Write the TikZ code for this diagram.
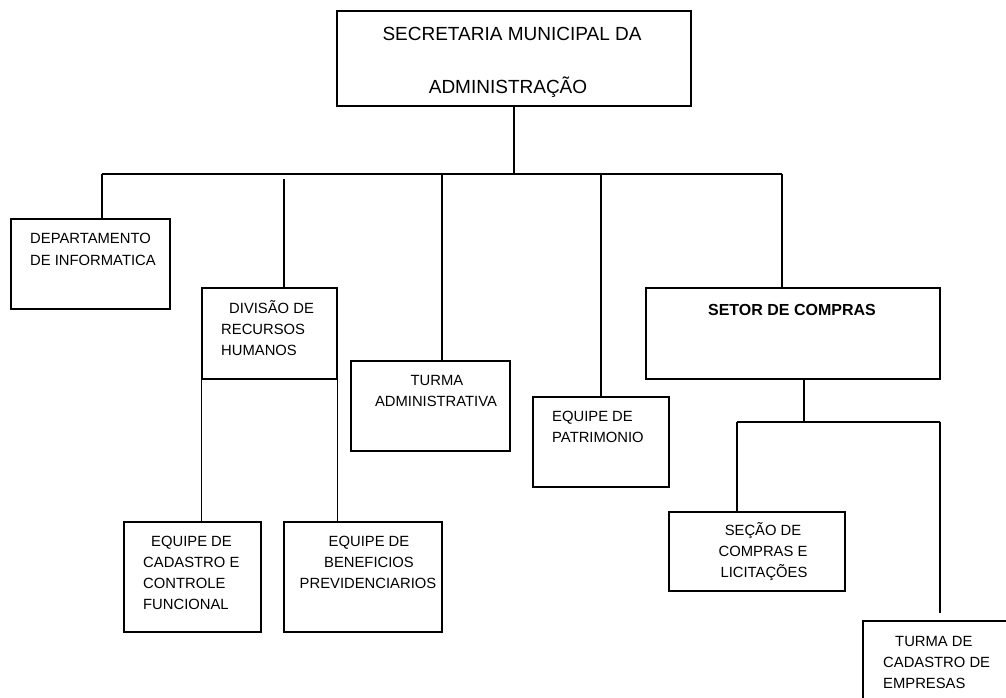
\documentclass[tikz,border=0pt]{standalone}
\usepackage{fontspec}
\setmainfont{Liberation Sans}
\begin{document}
\begin{tikzpicture}[x=1pt,y=-1pt,
  box/.style={draw, line width=1.6pt, inner sep=0pt},
  conn/.style={line width=1.3pt},
  txt/.style={inner sep=0pt, font=\fontsize{14.8}{16}\selectfont},
  bigtxt/.style={inner sep=0pt, font=\fontsize{19}{20}\selectfont},
  boldtxt/.style={inner sep=0pt, font=\fontsize{16}{17}\selectfont\bfseries}]
\clip (0,0) rectangle (1006,698);
\fill[white] (0,0) rectangle (1006,698);
% boxes
\node[box, minimum width=354pt, minimum height=95pt] (top) at (514,58.5) {};
\node[box, minimum width=159pt, minimum height=90pt] (dept) at (90.5,264) {};
\node[box, minimum width=135pt, minimum height=91pt] (rh) at (269.5,333.5) {};
\node[box, minimum width=159pt, minimum height=90pt] (tadm) at (430.5,406) {};
\node[box, minimum width=136pt, minimum height=90pt] (pat) at (601,442) {};
\node[box, minimum width=294pt, minimum height=91pt] (setor) at (793,333.5) {};
\node[box, minimum width=137pt, minimum height=110pt] (eqcad) at (192.5,577) {};
\node[box, minimum width=158pt, minimum height=110pt] (eqben) at (363,577) {};
\node[box, minimum width=176pt, minimum height=79pt] (secao) at (757,551.5) {};
\node[box, minimum width=170pt, minimum height=100pt] (tcad) at (948,671) {};
% texts
\node[bigtxt, anchor=base] (t1) at (512,41) {SECRETARIA MUNICIPAL DA};
\node[bigtxt, anchor=base] (t2) at (508,94) {ADMINISTRAÇÃO};
\node[txt, anchor=base west] (d1) at (30,243) {DEPARTAMENTO};
\node[txt, anchor=base west] (d2) at (30,265) {DE INFORMATICA};
\node[txt, anchor=base west] (r1) at (229,313) {DIVISÃO DE};
\node[txt, anchor=base west] (r2) at (221,334) {RECURSOS};
\node[txt, anchor=base west] (r3) at (221,355) {HUMANOS};
\node[txt, anchor=base] (a1) at (437,385) {TURMA};
\node[txt, anchor=base] (a2) at (436,406) {ADMINISTRATIVA};
\node[txt, anchor=base west] (p1) at (552,421) {EQUIPE DE};
\node[txt, anchor=base west] (p2) at (552,442) {PATRIMONIO};
\node[boldtxt, anchor=base] (s1) at (792,315) {SETOR DE COMPRAS};
\node[txt, anchor=base west] (c1) at (151,546) {EQUIPE DE};
\node[txt, anchor=base west] (c2) at (143,567) {CADASTRO E};
\node[txt, anchor=base west] (c3) at (143,588) {CONTROLE};
\node[txt, anchor=base west] (c4) at (143,609) {FUNCIONAL};
\node[txt, anchor=base] (b1) at (369,546) {EQUIPE DE};
\node[txt, anchor=base] (b2) at (369,567) {BENEFICIOS};
\node[txt, anchor=base] (b3) at (368,588) {PREVIDENCIARIOS};
\node[txt, anchor=base] (e1) at (763,535) {SEÇÃO DE};
\node[txt, anchor=base] (e2) at (763,556) {COMPRAS E};
\node[txt, anchor=base] (e3) at (764,577) {LICITAÇÕES};
\node[txt, anchor=base west] (u1) at (895,646) {TURMA DE};
\node[txt, anchor=base west] (u2) at (883,667) {CADASTRO DE};
\node[txt, anchor=base west] (u3) at (883,688) {EMPRESAS};
% connectors
\coordinate (busL) at (102,174);
\coordinate (busR) at (782,174);
\coordinate (rhtop) at (284,179);
\coordinate (sbus) at (804,422);
\coordinate (sbL) at (737,422);
\coordinate (sbR) at (940,422);
\coordinate (tcadend) at (940,613);
\draw[conn] (top.south) -- (top.south |- busL);
\draw[conn] (busL) -- (busR);
\draw[conn] (busL) -- (busL |- dept.north);
\draw[conn] (rhtop) -- (rhtop |- rh.north);
\draw[conn] (442,174) -- (442,174 |- tadm.north);
\draw[conn] (601,174) -- (601,174 |- pat.north);
\draw[conn] (busR) -- (busR |- setor.north);
\draw[conn] (sbus |- setor.south) -- (sbus);
\draw[conn] (sbL) -- (sbR);
\draw[conn] (sbL) -- (sbL |- secao.north);
\draw[conn] (sbR) -- (tcadend);
\draw[conn] (rh.south west) -- (rh.south west |- eqcad.north);
\draw[conn] (rh.south east) -- (rh.south east |- eqben.north);
\end{tikzpicture}
\end{document}
